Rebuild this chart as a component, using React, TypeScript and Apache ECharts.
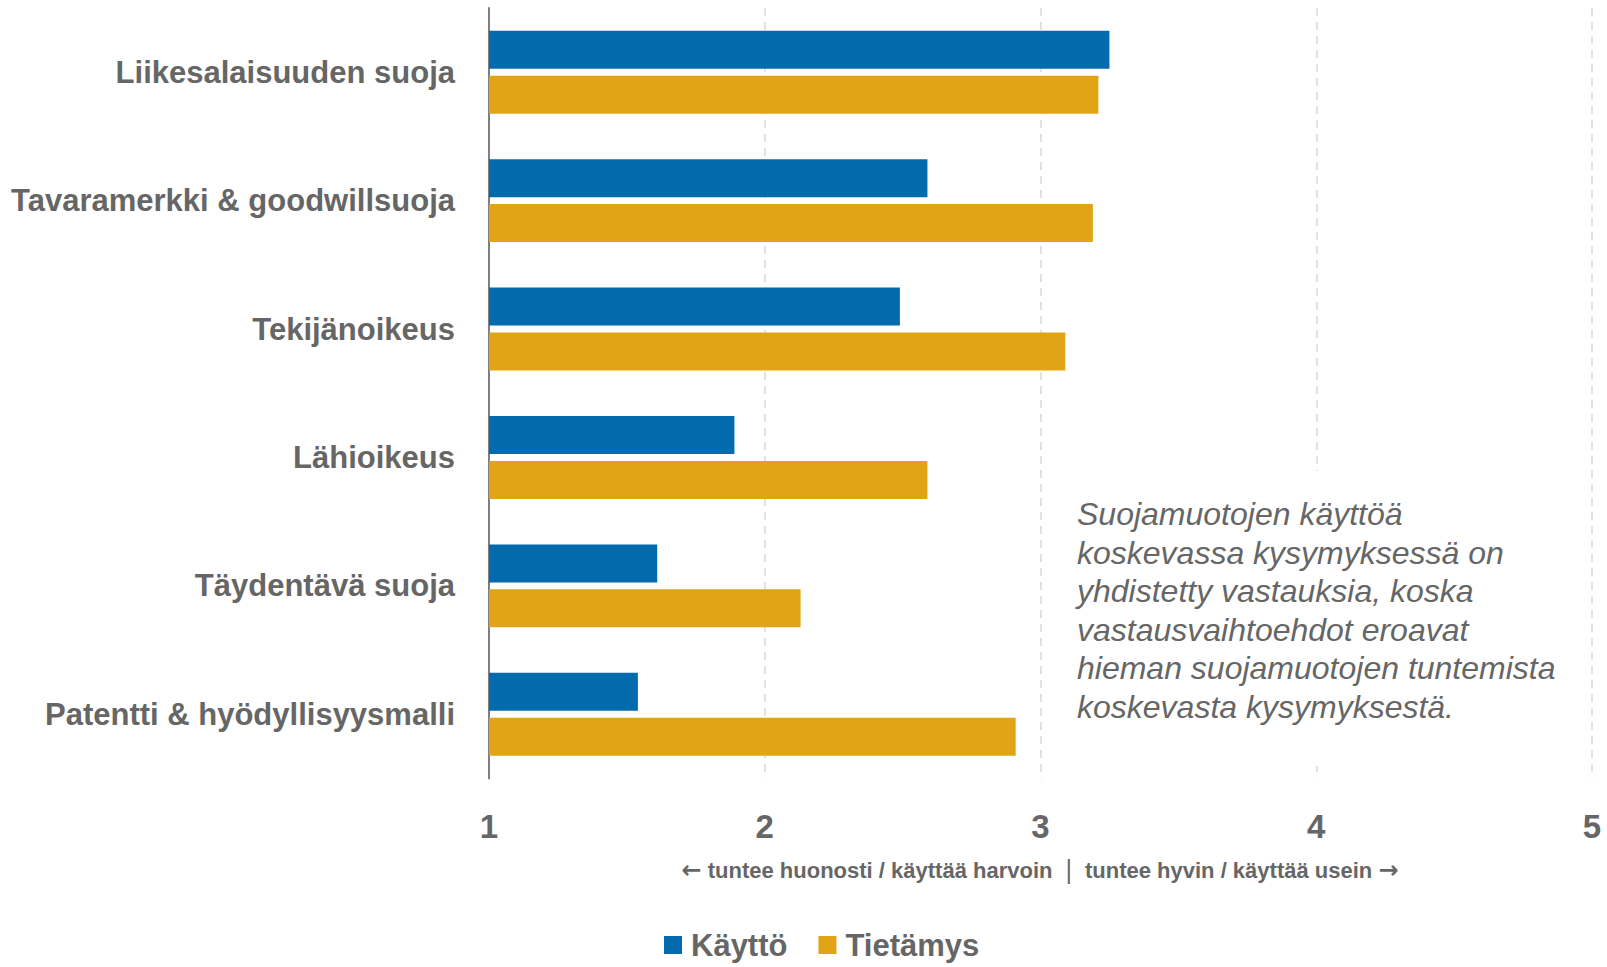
import React, { useEffect, useRef } from "react";
import * as echarts from "echarts";

const categories = [
  "Liikesalaisuuden suoja",
  "Tavaramerkki & goodwillsuoja",
  "Tekijänoikeus",
  "Lähioikeus",
  "Täydentävä suoja",
  "Patentti & hyödyllisyysmalli",
];
const kaytto = [3.25, 2.59, 2.49, 1.89, 1.61, 1.54];
const tietamys = [3.21, 3.19, 3.09, 2.59, 2.13, 2.91];
const seriesNames = ["Käyttö", "Tietämys"];
const captionLeft = "tuntee huonosti / käyttää harvoin";
const captionRight = "tuntee hyvin / käyttää usein";
const noteLines = [
  "Suojamuotojen käyttöä",
  "koskevassa kysymyksessä on",
  "yhdistetty vastauksia, koska",
  "vastausvaihtoehdot eroavat",
  "hieman suojamuotojen tuntemista",
  "koskevasta kysymyksestä.",
];

const FONT = '"Liberation Sans Narrow", "Arial Narrow", "Liberation Sans", Arial, sans-serif';
const GRAY = "#666666";

export default function App() {
  const ref = useRef<HTMLDivElement>(null);
  useEffect(() => {
    document.body.style.margin = "0";
    const chart = echarts.init(ref.current!, null, { renderer: "svg" });
    chart.setOption({
      animation: false,
      backgroundColor: "#ffffff",
      grid: {
        left: 489,
        right: 15,
        top: 8,
        bottom: 188.5,
        containLabel: false,
        outerBoundsMode: "none",
      },
      xAxis: {
        type: "value",
        min: 1,
        max: 5,
        interval: 1,
        axisLine: { show: false },
        axisTick: { show: false },
        axisLabel: {
          fontFamily: FONT,
          fontWeight: "bold",
          fontSize: 33,
          color: GRAY,
          margin: 31,
        },
        splitLine: { show: true, lineStyle: { color: "#d9d9d9", type: [8, 6], width: 1.5 } },
      },
      yAxis: {
        type: "category",
        data: categories,
        inverse: true,
        axisLine: { show: true, lineStyle: { color: "#7f7f7f", width: 2 } },
        axisTick: { show: false },
        axisLabel: {
          fontFamily: FONT,
          fontWeight: "bold",
          fontSize: 31,
          color: GRAY,
          margin: 34,
        },
      },
      legend: {
        data: seriesNames,
        left: 664,
        top: 928,
        icon: "rect",
        itemWidth: 18,
        itemHeight: 18,
        itemGap: 31,
        padding: 0,
        textStyle: {
          fontFamily: FONT,
          fontWeight: "bold",
          fontSize: 31,
          lineHeight: 34,
          color: GRAY,
          padding: [0, 0, 0, 4],
        },
      },
      series: [
        {
          name: seriesNames[0],
          type: "bar",
          data: kaytto,
          barWidth: 38,
          barGap: "18%",
          itemStyle: { color: "#036aad" },
        },
        {
          name: seriesNames[1],
          type: "bar",
          data: tietamys,
          barWidth: 38,
          barGap: "18%",
          itemStyle: { color: "#e2a417" },
        },
      ],
      graphic: [
        {
          type: "text",
          x: 1040,
          y: 870,
          style: {
            text: "{ar|←} " + captionLeft + "  {sep||}  " + captionRight + " {ar|→}",
            fontFamily: FONT,
            fontWeight: "bold",
            fontSize: 22,
            fill: GRAY,
            align: "center",
            verticalAlign: "middle",
            rich: {
              ar: {
                fontFamily: '"DejaVu Sans", sans-serif',
                fontWeight: "bold",
                fontSize: 24,
                fill: GRAY,
              },
              sep: {
                fontFamily: '"DejaVu Sans", sans-serif',
                fontWeight: "normal",
                fontSize: 24,
                fill: GRAY,
              },
            },
          },
        },
        {
          type: "rect",
          z: 10,
          shape: { x: 1060, y: 471, width: 500, height: 295 },
          style: { fill: "#ffffff" },
        },
        {
          type: "text",
          z: 11,
          x: 1077,
          y: 495,
          style: {
            text: noteLines.join("\n"),
            fontFamily: '"Liberation Sans", Arial, sans-serif',
            fontStyle: "italic",
            fontSize: 32,
            lineHeight: 38.5,
            fill: GRAY,
            align: "left",
            verticalAlign: "top",
          },
        },
      ],
    });
    return () => chart.dispose();
  }, []);
  return <div ref={ref} style={{ width: 1607, height: 967 }} />;
}
